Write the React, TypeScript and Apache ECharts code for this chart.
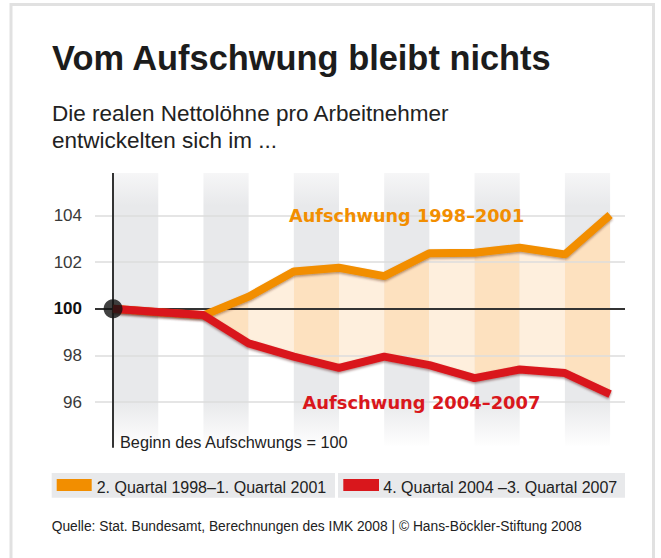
import React, { useEffect, useRef } from 'react';
import * as echarts from 'echarts';

// Quarter index since the start of each upswing (start = 100)
const quarterIndex = [0, 1, 2, 3, 4, 5, 6, 7, 8, 9, 10, 11];
// Real net wages per employee, index (start of upswing = 100)
const upswing1998 = [100, 99.85, 99.72, 100.52, 101.6, 101.76, 101.4, 102.38, 102.4, 102.62, 102.33, 104.02];
const upswing2004 = [100, 99.86, 99.73, 98.52, 97.95, 97.47, 97.95, 97.59, 97.03, 97.4, 97.25, 96.35];
const yTicks = [96, 98, 100, 102, 104];
const legendLabels = ['2. Quartal 1998–1. Quartal 2001', '4. Quartal 2004 –3. Quartal 2007'];
const lineLabels = ['Aufschwung 1998–2001', 'Aufschwung 2004–2007'];
const titleText = 'Vom Aufschwung bleibt nichts';
const subtitleLines = ['Die realen Nettolöhne pro Arbeitnehmer', 'entwickelten sich im ...'];
const baseNote = 'Beginn des Aufschwungs = 100';
const sourceText = 'Quelle: Stat. Bundesamt, Berechnungen des IMK 2008 | © Hans-Böckler-Stiftung 2008';

const ORANGE = '#f28e00';
const RED = '#d9171c';
const FILL_DARK = '#fde1bf';
const FILL_LIGHT = '#feefdd';
const BAND = '#e8e9eb';
const FONT = '"Liberation Sans", Arial, sans-serif';
const FONT_LBL = '"DejaVu Sans", sans-serif';

export default function App() {
  const ref = useRef<HTMLDivElement>(null);

  useEffect(() => {
    if (!ref.current) return;
    const chart = echarts.init(ref.current, undefined, { renderer: 'svg' });

    const n = quarterIndex.length;

    const bandColor = {
      type: 'linear', x: 0, y: 0, x2: 0, y2: 1,
      colorStops: [
        { offset: 0, color: '#f6f6f7' },
        { offset: 0.12, color: BAND },
        { offset: 0.84, color: BAND },
        { offset: 1, color: 'rgba(232,233,235,0.05)' },
      ],
    };

    const bands: any[] = [];
    for (let i = 0; i + 1 < n; i += 2) {
      bands.push([{ coord: [quarterIndex[i], 94.15] }, { coord: [quarterIndex[i + 1], 105.82] }]);
    }

    const gridLines: any[] = yTicks
      .filter((v) => v !== 100)
      .map((v) => ({ yAxis: v, lineStyle: { color: '#dcdcdc', width: 1.5, type: 'solid' } }));
    gridLines.push({ yAxis: 100, lineStyle: { color: '#333', width: 2, type: 'solid' } });
    gridLines.push([
      { coord: [0, 94.05], lineStyle: { color: '#333', width: 2, type: 'solid' } },
      { coord: [0, 105.82] },
    ]);

    // one polygon per quarter interval, between the two lines
    const fillData = quarterIndex.slice(0, -1).map((x, i) => [
      x,
      upswing1998[i],
      upswing2004[i],
      quarterIndex[i + 1],
      upswing1998[i + 1],
      upswing2004[i + 1],
    ]);

    const txt = (x: number, y: number, text: string, font: string, fill: string) => ({
      type: 'text',
      x,
      y,
      z: 100,
      silent: true,
      style: { text, font, fill, align: 'left', verticalAlign: 'middle' },
    });

    chart.setOption({
      animation: false,
      backgroundColor: '#ffffff',
      grid: { left: 95, right: 36, top: 168.7, bottom: 109.1 },
      xAxis: { type: 'value', min: -0.4, max: 11.33, show: false },
      yAxis: {
        type: 'value',
        min: 94,
        max: 106,
        interval: 2,
        axisLine: { show: false },
        axisTick: { show: false },
        splitLine: { show: false },
        axisLabel: {
          margin: 13,
          showMinLabel: false,
          showMaxLabel: false,
          fontFamily: FONT,
          fontSize: 17,
          color: '#3a3a3a',
          formatter: (v: number) => (v === 100 ? '{b|100}' : yTicks.includes(v) ? String(v) : ''),
          rich: { b: { fontFamily: FONT, fontSize: 17, fontWeight: 'bold', color: '#111' } },
        },
      },
      series: [
        {
          type: 'custom',
          name: 'fill',
          z: 3,
          silent: true,
          clip: true,
          data: fillData,
          renderItem: (params: any, api: any) => {
            const x0 = api.value(0);
            const x1 = api.value(3);
            const pts = [
              api.coord([x0, api.value(1)]),
              api.coord([x1, api.value(4)]),
              api.coord([x1, api.value(5)]),
              api.coord([x0, api.value(2)]),
            ];
            return {
              type: 'polygon',
              shape: { points: pts },
              style: { fill: params.dataIndex % 2 === 0 ? FILL_DARK : FILL_LIGHT, stroke: null, lineWidth: 0 },
            };
          },
          markArea: { silent: true, z: 1, itemStyle: { color: bandColor }, label: { show: false }, data: bands },
          markLine: {
            silent: true,
            z: 5,
            symbol: 'none',
            label: { show: false },
            data: gridLines,
          },
        },
        {
          type: 'line',
          name: legendLabels[0],
          data: quarterIndex.map((x, i) => [x, upswing1998[i]]),
          z: 10,
          showSymbol: false,
          silent: true,
          lineStyle: {
            color: ORANGE,
            width: 8,
            shadowColor: 'rgba(90,40,0,0.45)',
            shadowBlur: 2,
            shadowOffsetY: 1.5,
          },
        },
        {
          type: 'line',
          name: legendLabels[1],
          data: quarterIndex.map((x, i) => [x, upswing2004[i]]),
          z: 11,
          showSymbol: false,
          silent: true,
          lineStyle: {
            color: RED,
            width: 8,
            shadowColor: 'rgba(70,0,0,0.45)',
            shadowBlur: 2,
            shadowOffsetY: 1.5,
          },
        },
        {
          type: 'scatter',
          data: [[quarterIndex[0], upswing2004[0]]],
          z: 12,
          symbolSize: 19,
          silent: true,
          itemStyle: { color: '#111' },
        },
      ],
      graphic: [
        {
          type: 'rect',
          z: -10,
          silent: true,
          shape: { x: 11, y: 4.5, width: 642.5, height: 562 },
          style: { fill: 'none', stroke: '#e1e1e1', lineWidth: 3 },
        },
        txt(52, 58, titleText, `bold 34.4px ${FONT}`, '#1c1c1c'),
        txt(52, 113.3, subtitleLines[0], `22.5px ${FONT}`, '#222'),
        txt(52, 140.3, subtitleLines[1], `22.5px ${FONT}`, '#222'),
        txt(289, 216, lineLabels[0], `bold 17.7px ${FONT_LBL}`, ORANGE),
        txt(302.5, 402, lineLabels[1], `bold 17.9px ${FONT_LBL}`, RED),
        txt(120, 441.5, baseNote, `16.3px ${FONT}`, '#222'),
        {
          type: 'rect', silent: true, z: 90,
          shape: { x: 51.7, y: 473, width: 283.3, height: 24.7 },
          style: { fill: BAND },
        },
        {
          type: 'rect', silent: true, z: 90,
          shape: { x: 338, y: 473, width: 287, height: 24.7 },
          style: { fill: BAND },
        },
        {
          type: 'rect', silent: true, z: 95,
          shape: { x: 56.7, y: 479, width: 35, height: 12 },
          style: { fill: ORANGE },
        },
        {
          type: 'rect', silent: true, z: 95,
          shape: { x: 343.3, y: 479, width: 35.7, height: 12 },
          style: { fill: RED },
        },
        txt(96.7, 487, legendLabels[0], `16px ${FONT}`, '#222'),
        txt(383.3, 487, legendLabels[1], `16px ${FONT}`, '#222'),
        txt(51.7, 526.7, sourceText, `13.8px ${FONT}`, '#222'),
      ],
    });

    return () => {
      chart.dispose();
    };
  }, []);

  return (
    <div
      ref={ref}
      style={{ position: 'absolute', left: 0, top: 0, width: 661, height: 558 }}
    />
  );
}
